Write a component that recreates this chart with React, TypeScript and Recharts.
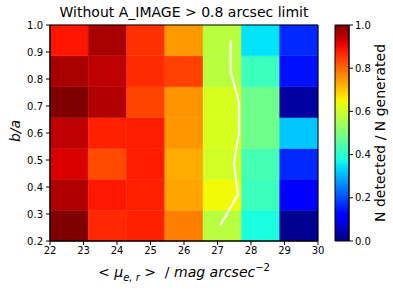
import React from 'react'
import { ComposedChart, BarChart, Bar, XAxis, YAxis, ReferenceArea, Line } from 'recharts'

// imshow extent of the grid
const MAG_RANGE = [22, 30]
const BA_RANGE = [0.2, 1.0]

const MAG_TICKS = [22, 23, 24, 25, 26, 27, 28, 29, 30]
const BA_TICKS = [0.2, 0.3, 0.4, 0.5, 0.6, 0.7, 0.8, 0.9, 1.0]
const CBAR_TICKS = [0, 0.2, 0.4, 0.6, 0.8, 1.0]

// N detected / N generated, rows from low b/a (bottom) to high b/a (top)
const FRACTION_ROWS = [
  [1.0, 0.868, 0.876, 0.775, 0.573, 0.381, 0.014],
  [0.958, 0.885, 0.876, 0.736, 0.644, 0.42, 0.12],
  [0.922, 0.832, 0.88, 0.729, 0.603, 0.434, 0.164],
  [0.945, 0.876, 0.88, 0.751, 0.612, 0.482, 0.32],
  [1.0, 0.958, 0.838, 0.753, 0.612, 0.482, 0.028],
  [0.965, 0.945, 0.865, 0.842, 0.573, 0.42, 0.141],
  [0.888, 0.965, 0.859, 0.748, 0.573, 0.348, 0.164],
]

// 50% completeness track
const TRACK_MAG = [27.08, 27.61, 27.49, 27.64, 27.64, 27.39, 27.39]
const TRACK_BA = [0.257, 0.371, 0.486, 0.6, 0.714, 0.829, 0.943]

const JET_R = [[0, 0], [0.35, 0], [0.66, 1], [0.89, 1], [1, 0.5]]
const JET_G = [[0, 0], [0.125, 0], [0.375, 1], [0.64, 1], [0.91, 0], [1, 0]]
const JET_B = [[0, 0.5], [0.11, 1], [0.34, 1], [0.65, 0], [1, 0]]

const interp = (pts: number[][], x: number) => {
  for (let i = 0; i < pts.length - 1; i++) {
    const [x0, y0] = pts[i]
    const [x1, y1] = pts[i + 1]
    if (x <= x1) return y0 + ((y1 - y0) * (x - x0)) / (x1 - x0 || 1)
  }
  return pts[pts.length - 1][1]
}

const jet = (v: number) => {
  const x = Math.max(0, Math.min(1, v))
  const c = (p: number[][]) => Math.round(interp(p, x) * 255)
  return `rgb(${c(JET_R)},${c(JET_G)},${c(JET_B)})`
}

const nCols = FRACTION_ROWS[0].length
const nRows = FRACTION_ROWS.length
const dMag = (MAG_RANGE[1] - MAG_RANGE[0]) / nCols
const dBa = (BA_RANGE[1] - BA_RANGE[0]) / nRows

const cells = FRACTION_ROWS.flatMap((row, r) =>
  row.map((v, c) => ({
    x1: MAG_RANGE[0] + c * dMag,
    x2: MAG_RANGE[0] + (c + 1) * dMag,
    y1: BA_RANGE[0] + r * dBa,
    y2: BA_RANGE[0] + (r + 1) * dBa,
    fill: jet(v),
  }))
)

const trackData = TRACK_MAG.map((mag, i) => ({ mag, ba: TRACK_BA[i] }))
const cbarData = [{ name: 'cbar', value: 1 }]

const GRAD_STOPS = Array.from({ length: 41 }, (_, i) => i / 40)

const FONT = "'DejaVu Sans', sans-serif"
const tickStyle = { fill: '#000', fontSize: 10, fontFamily: FONT }

export default function App() {
  return (
    <div style={{ position: 'absolute', left: 0, top: 0, width: 393, height: 291, background: '#fff', fontFamily: FONT }}>
      <div style={{ position: 'absolute', left: 50, width: 268, top: 3, textAlign: 'center', fontSize: 14, lineHeight: '18px', whiteSpace: 'nowrap' }}>
        Without A_IMAGE &gt; 0.8 arcsec limit
      </div>

      <div style={{ position: 'absolute', left: 0, top: 0 }}>
        <ComposedChart width={330} height={291} margin={{ top: 25, right: 12, bottom: 30, left: 0 }}>
          <XAxis
            type="number"
            dataKey="mag"
            domain={MAG_RANGE}
            ticks={MAG_TICKS}
            allowDataOverflow
            height={20}
            tickSize={4}
            tickMargin={2}
            stroke="#000"
            tick={tickStyle}
            interval={0}
          />
          <YAxis
            type="number"
            domain={BA_RANGE}
            ticks={BA_TICKS}
            allowDataOverflow
            width={50}
            tickSize={4}
            tickMargin={3}
            stroke="#000"
            tick={tickStyle}
            interval={0}
            tickFormatter={(v: number) => v.toFixed(1)}
          />
          {cells.map((c, i) => (
            <ReferenceArea
              key={`cell-${i}`}
              x1={c.x1}
              x2={c.x2}
              y1={c.y1}
              y2={c.y2}
              fill={c.fill}
              fillOpacity={1}
              stroke={c.fill}
              strokeWidth={0.5}
            />
          ))}
          <Line
            data={trackData}
            dataKey="ba"
            type="linear"
            stroke="#fff"
            strokeWidth={2}
            dot={false}
            isAnimationActive={false}
          />
          <ReferenceArea x1={MAG_RANGE[0]} x2={MAG_RANGE[1]} y1={BA_RANGE[0]} y2={BA_RANGE[1]} fill="none" stroke="#000" strokeWidth={1} />
        </ComposedChart>
      </div>

      <div style={{ position: 'absolute', left: 320, top: 0 }}>
        <BarChart
          width={59}
          height={291}
          data={cbarData}
          margin={{ top: 25, right: 0, bottom: 50, left: 15 }}
          barCategoryGap={0}
        >
          <defs>
            <linearGradient id="jetGrad" x1="0" y1="1" x2="0" y2="0">
              {GRAD_STOPS.map((s) => (
                <stop key={s} offset={`${s * 100}%`} stopColor={jet(s)} />
              ))}
            </linearGradient>
          </defs>
          <XAxis dataKey="name" hide />
          <YAxis
            type="number"
            orientation="right"
            domain={[0, 1]}
            ticks={CBAR_TICKS}
            width={30}
            tickSize={4}
            tickMargin={2}
            stroke="#000"
            tick={tickStyle}
            interval={0}
            tickFormatter={(v: number) => v.toFixed(1)}
          />
          <Bar dataKey="value" fill="url(#jetGrad)" stroke="#000" strokeWidth={1} isAnimationActive={false} />
        </BarChart>
      </div>

      <div
        style={{
          position: 'absolute',
          left: 380,
          top: 133,
          transform: 'translate(-50%, -50%) rotate(-90deg)',
          fontSize: 14,
          whiteSpace: 'nowrap',
          lineHeight: '16px',
        }}
      >
        N detected / N generated
      </div>

      <div
        style={{
          position: 'absolute',
          left: 15,
          top: 131,
          transform: 'translate(-50%, -50%) rotate(-90deg)',
          fontSize: 14,
          fontStyle: 'italic',
          whiteSpace: 'nowrap',
          lineHeight: '16px',
        }}
      >
        b/a
      </div>

      <div style={{ position: 'absolute', left: 50, width: 268, top: 263, textAlign: 'center', fontSize: 14, lineHeight: '18px', whiteSpace: 'nowrap' }}>
        &lt; <i>μ</i>
        <span style={{ fontSize: 10, fontStyle: 'italic', position: 'relative', top: 4 }}>e, r</span> &gt;&nbsp; / <i>mag arcsec</i>
        <span style={{ fontSize: 10, position: 'relative', top: -6 }}>−2</span>
      </div>
    </div>
  )
}
